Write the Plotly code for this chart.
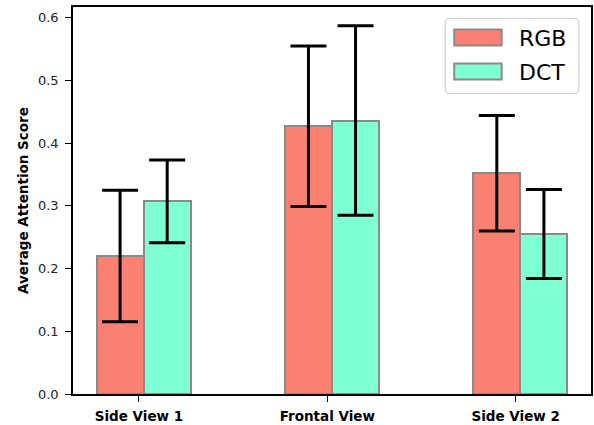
import plotly.graph_objects as go

categories = ["Side View 1", "Frontal View", "Side View 2"]
rgb_mean = [0.220, 0.427, 0.352]
rgb_err = [0.105, 0.128, 0.092]
dct_mean = [0.307, 0.436, 0.255]
dct_err = [0.066, 0.151, 0.071]
series_names = ["RGB", "DCT"]
colors = ["#FA8072", "#7FFFD4"]
yticks = [0.0, 0.1, 0.2, 0.3, 0.4, 0.5, 0.6]

W, H = 594, 425
ML, MR, MT, MB = 73, 1, 7, 31
PW, PH = W - ML - MR, H - MT - MB
bar_w = 0.25
pos = list(range(len(categories)))

def px_x(p):
    return (p - ML) / PW

def px_y(p):
    return (H - MB - p) / PH

fig = go.Figure()
for name, means, errs, col, off in [
    (series_names[0], rgb_mean, rgb_err, colors[0], 0.0),
    (series_names[1], dct_mean, dct_err, colors[1], bar_w),
]:
    fig.add_trace(go.Bar(
        x=[p + off for p in pos], y=means, width=bar_w, name=name,
        marker=dict(color=col, line=dict(color="#8a8a8a", width=2)),
        error_y=dict(type="data", array=errs, visible=True, color="black",
                     thickness=3, width=18),
        showlegend=False, hoverinfo="skip",
    ))

shapes = []
# legend box with rounded corners
x0, x1, y0, y1, r = 446.7, 580.7, 18.3, 93.3, 4
def P(x, y):
    return f"{px_x(x):.5f},{px_y(y):.5f}"
path = (f"M {P(x0+r, y0)} L {P(x1-r, y0)} Q {P(x1, y0)} {P(x1, y0+r)} "
        f"L {P(x1, y1-r)} Q {P(x1, y1)} {P(x1-r, y1)} L {P(x0+r, y1)} "
        f"Q {P(x0, y1)} {P(x0, y1-r)} L {P(x0, y0+r)} Q {P(x0, y0)} {P(x0+r, y0)} Z")
shapes.append(dict(type="path", xref="paper", yref="paper", path=path,
                   fillcolor="rgba(255,255,255,0.8)", line=dict(color="#d4d4d4", width=1.3)))
annotations = []
for i, (name, col) in enumerate(zip(series_names, colors)):
    cy = 37.4 + i * 34
    shapes.append(dict(type="rect", xref="paper", yref="paper",
                       x0=px_x(455.7), x1=px_x(503.3), y0=px_y(cy - 8), y1=px_y(cy + 8),
                       fillcolor=col, line=dict(color="#8a8a8a", width=2)))
    annotations.append(dict(xref="paper", yref="paper", x=px_x(519), y=px_y(cy + 1),
                            text=name, showarrow=False, xanchor="left", yanchor="middle",
                            font=dict(family="DejaVu Sans", size=22, color="black")))

fig.update_layout(
    width=W, height=H,
    margin=dict(l=ML, r=MR, t=MT, b=MB, pad=0),
    paper_bgcolor="white", plot_bgcolor="white",
    bargap=0, barmode="overlay",
    font=dict(family="DejaVu Sans", size=13, color="black"),
    shapes=shapes, annotations=annotations,
    xaxis=dict(
        range=[-0.25, 2.5], tickmode="array",
        tickvals=[p + 0.1 for p in pos], ticktext=[f"<b>{c}</b>" for c in categories],
        showline=True, linecolor="black", linewidth=1.6, mirror=True,
        ticks="outside", ticklen=6, tickwidth=1.3, tickcolor="black",
        showgrid=False, zeroline=False, ticklabelstandoff=3,
        tickfont=dict(family="DejaVu Sans", size=13.5, color="black"),
    ),
    yaxis=dict(
        range=[0, 0.617], tickmode="array", tickvals=yticks,
        ticktext=[f"{v:.1f}" for v in yticks],
        showline=True, linecolor="black", linewidth=1.6, mirror=True,
        ticks="outside", ticklen=6, tickwidth=1.3, tickcolor="black",
        showgrid=False, zeroline=False, ticklabelstandoff=4,
        tickfont=dict(family="DejaVu Sans", size=13, color="#222"),
        title=dict(text="<b>Average Attention Score</b>", standoff=6,
                   font=dict(family="DejaVu Sans", size=13.5, color="black")),
    ),
)

fig.write_html("out.html", config={"displayModeBar": False},
               post_script="document.body.style.margin='0';document.body.style.padding='0';")
